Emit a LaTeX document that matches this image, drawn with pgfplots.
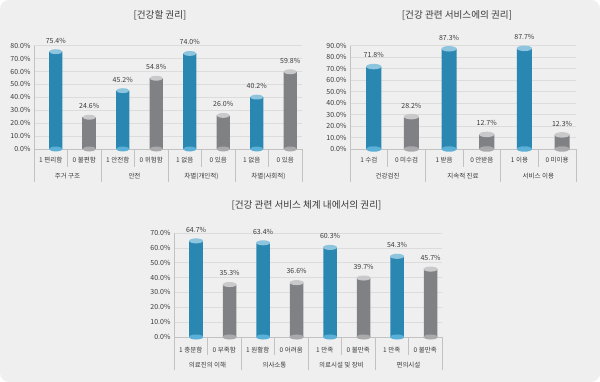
\documentclass[border=0pt]{standalone}
\usepackage{pgfplots}
\pgfplotsset{compat=1.18}
\usepackage{fontspec}
\setmainfont{Noto Sans CJK KR}

\definecolor{bgc}{HTML}{EFEFEF}
\definecolor{gridc}{HTML}{DCDCDC}
\definecolor{axc}{HTML}{C2C2C2}
\definecolor{txt}{HTML}{3A3A3A}
\definecolor{blD}{HTML}{2A87B2}
\definecolor{blL}{HTML}{3EA4CD}
\definecolor{blT}{HTML}{8EC5DE}
\definecolor{blB}{HTML}{5AB0D6}
\definecolor{grD}{HTML}{808185}
\definecolor{grL}{HTML}{9B9CA0}
\definecolor{grT}{HTML}{C9C9CB}
\definecolor{grB}{HTML}{AAAAAD}

\pgfdeclareplotmark{cyl}{%
  \pgfpathellipse{\pgfpointorigin}{\pgfqpoint{\pgfplotmarksize}{0pt}}{\pgfqpoint{0pt}{0.36\pgfplotmarksize}}%
  \pgfusepathqfill}

\tikzset{
  sep/.style={draw=axc, line width=0.6pt},
  grp/.style={font=\fontsize{6.5}{8}\selectfont, text=txt},
  ttl/.style={font=\fontsize{9.6}{11}\selectfont, text=txt},
}

\pgfplotsset{
  cylax/.style={
    scale only axis, anchor=south west,
    axis lines=left, axis line style={draw=axc, line width=0.6pt, -},
    ymin=0, xmin=-0.5, clip=false,
    ymajorgrids, grid style={draw=gridc, line width=0.5pt},
    major tick length=0pt,
    /pgf/number format/assume math mode=true,
    yticklabel={\pgfmathprintnumber[fixed,fixed zerofill,precision=1]{\tick}\%},
    yticklabel style={font=\fontsize{7}{8}\selectfont, text=txt},
    xticklabel style={font=\fontsize{6.5}{8}\selectfont, text=txt, anchor=center, yshift=-11pt},
    nodes near coords={\pgfmathprintnumber[fixed,fixed zerofill,precision=1]{\pgfplotspointmeta}\%},
    every node near coord/.append style={font=\fontsize{7}{8}\selectfont, text=txt, yshift=5pt},
  },
  cbar/.style={ybar, bar width=0.4, bar shift=0pt, draw=none},
  bluebar/.style={cbar, left color=blD, middle color=blL, right color=blD},
  graybar/.style={cbar, left color=grD, middle color=grL, right color=grD},
  capb/.style={only marks, mark=cyl, mark options={fill=blT, draw=none}, nodes near coords={}},
  capg/.style={only marks, mark=cyl, mark options={fill=grT, draw=none}, nodes near coords={}},
  baseb/.style={only marks, mark=cyl, mark options={fill=blB, draw=none}, nodes near coords={}},
  baseg/.style={only marks, mark=cyl, mark options={fill=grB, draw=none}, nodes near coords={}},
}

\begin{document}
\begin{tikzpicture}
\fill[white] (0pt,0pt) rectangle (600pt,382pt);
\fill[bgc, rounded corners=9pt] (0pt,0pt) rectangle (600pt,382pt);

\node[ttl] at (160pt,367pt) {[건강할 권리]};
\node[ttl] at (457pt,367pt) {[건강 관련 서비스에의 권리]};
\node[ttl] at (306.5pt,177pt) {[건강 관련 서비스 체계 내에서의 권리]};

% Panel 1
\begin{axis}[cylax, at={(34pt,233pt)}, width=268pt, height=103.3pt,
  ymax=80, xmax=7.5, ytick={0,10,...,80}, xtick={0,...,7},
  xticklabels={1 편리함, 0 불편함, 1 안전함, 0 위험함, 1 없음, 0 있음, 1 없음, 0 있음},
  mark size=6.7pt]
\addplot[bluebar] coordinates {(0.15,75.4) (2.15,45.2) (4.15,74.0) (6.15,40.2)};
\addplot[graybar] coordinates {(1.15,24.6) (3.15,54.8) (5.15,26.0) (7.15,59.8)};
\addplot[baseb] coordinates {(0.15,0) (2.15,0) (4.15,0) (6.15,0)};
\addplot[baseg] coordinates {(1.15,0) (3.15,0) (5.15,0) (7.15,0)};
\addplot[capb] coordinates {(0.15,75.4) (2.15,45.2) (4.15,74.0) (6.15,40.2)};
\addplot[capg] coordinates {(1.15,24.6) (3.15,54.8) (5.15,26.0) (7.15,59.8)};
\pgfplotsinvokeforeach{0.5,2.5,4.5,6.5}{\draw[sep] (axis cs:#1,0) -- ++(0pt,-18pt);}
\pgfplotsinvokeforeach{-0.5,1.5,3.5,5.5,7.5}{\draw[sep] (axis cs:#1,0) -- ++(0pt,-33pt);}
\node[grp] at ([yshift=-27pt]axis cs:0.5,0) {주거 구조};
\node[grp] at ([yshift=-27pt]axis cs:2.5,0) {안전};
\node[grp] at ([yshift=-27pt]axis cs:4.5,0) {차별(개인적)};
\node[grp] at ([yshift=-27pt]axis cs:6.5,0) {차별(사회적)};
\end{axis}

% Panel 2
\begin{axis}[cylax, at={(350pt,233pt)}, width=226pt, height=103.3pt,
  ymax=90, xmax=5.5, ytick={0,10,...,90}, xtick={0,...,5},
  xticklabels={1 수검, 0 미수검, 1 받음, 0 안받음, 1 이용, 0 미이용},
  mark size=7.6pt]
\addplot[bluebar] coordinates {(0.13,71.8) (2.13,87.3) (4.13,87.7)};
\addplot[graybar] coordinates {(1.13,28.2) (3.13,12.7) (5.13,12.3)};
\addplot[baseb] coordinates {(0.13,0) (2.13,0) (4.13,0)};
\addplot[baseg] coordinates {(1.13,0) (3.13,0) (5.13,0)};
\addplot[capb] coordinates {(0.13,71.8) (2.13,87.3) (4.13,87.7)};
\addplot[capg] coordinates {(1.13,28.2) (3.13,12.7) (5.13,12.3)};
\pgfplotsinvokeforeach{0.5,2.5,4.5}{\draw[sep] (axis cs:#1,0) -- ++(0pt,-18pt);}
\pgfplotsinvokeforeach{-0.5,1.5,3.5,5.5}{\draw[sep] (axis cs:#1,0) -- ++(0pt,-33pt);}
\node[grp] at ([yshift=-27pt]axis cs:0.5,0) {건강검진};
\node[grp] at ([yshift=-27pt]axis cs:2.5,0) {지속적 진료};
\node[grp] at ([yshift=-27pt]axis cs:4.5,0) {서비스 이용};
\end{axis}

% Panel 3
\begin{axis}[cylax, at={(174pt,45pt)}, width=268pt, height=104pt,
  ymax=70, xmax=7.5, ytick={0,10,...,70}, xtick={0,...,7},
  xticklabels={1 충분함, 0 부족함, 1 원활함, 0 어려움, 1 만족, 0 불만족, 1 만족, 0 불만족},
  xticklabel style={yshift=-2pt},
  mark size=7pt]
\addplot[bluebar] coordinates {(0.16,64.7) (2.16,63.4) (4.16,60.3) (6.16,54.3)};
\addplot[graybar] coordinates {(1.16,35.3) (3.16,36.6) (5.16,39.7) (7.16,45.7)};
\addplot[baseb] coordinates {(0.16,0) (2.16,0) (4.16,0) (6.16,0)};
\addplot[baseg] coordinates {(1.16,0) (3.16,0) (5.16,0) (7.16,0)};
\addplot[capb] coordinates {(0.16,64.7) (2.16,63.4) (4.16,60.3) (6.16,54.3)};
\addplot[capg] coordinates {(1.16,35.3) (3.16,36.6) (5.16,39.7) (7.16,45.7)};
\pgfplotsinvokeforeach{0.5,2.5,4.5,6.5}{\draw[sep] (axis cs:#1,0) -- ++(0pt,-18pt);}
\pgfplotsinvokeforeach{-0.5,1.5,3.5,5.5,7.5}{\draw[sep] (axis cs:#1,0) -- ++(0pt,-33pt);}
\node[grp] at ([yshift=-28pt]axis cs:0.5,0) {의료진의 이해};
\node[grp] at ([yshift=-28pt]axis cs:2.5,0) {의사소통};
\node[grp] at ([yshift=-28pt]axis cs:4.5,0) {의료시설 및 장비};
\node[grp] at ([yshift=-28pt]axis cs:6.5,0) {편의시설};
\end{axis}
\end{tikzpicture}
\end{document}
